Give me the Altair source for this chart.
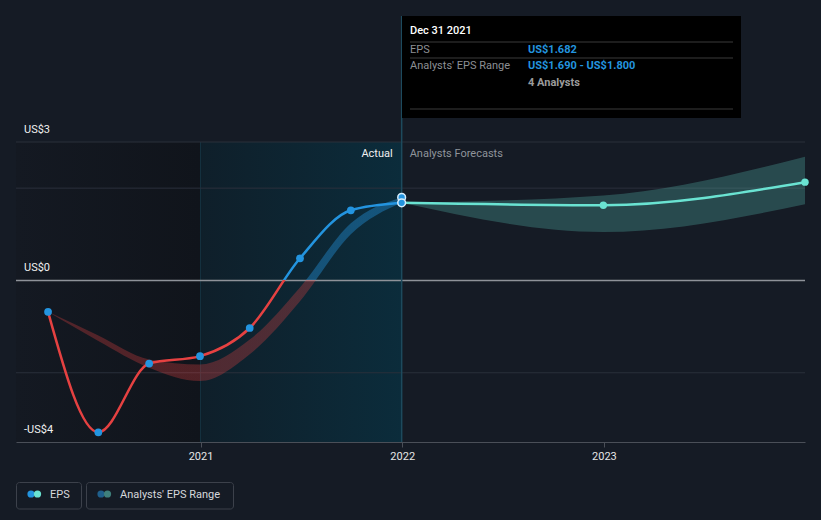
import altair as alt
import pandas as pd

# ---------------- data ----------------
eps_dates = ["2020-03-31", "2020-06-30", "2020-09-30", "2020-12-31",
             "2021-03-31", "2021-06-30", "2021-09-30", "2021-12-31"]
eps_values = [-0.68, -3.29, -1.80, -1.64, -1.03, 0.48, 1.52, 1.682]
range_low = [-0.68, -1.31, -1.89, -2.18, -1.60, -0.45, 1.00, 1.69]
range_high = [-0.68, -1.19, -1.71, -1.82, -1.28, -0.15, 1.24, 1.80]

fc_dates = ["2021-12-31", "2022-12-31", "2023-12-31"]
fc_eps = [1.682, 1.63, 2.13]
fc_low = [1.682, 1.05, 1.65]
fc_high = [1.682, 1.84, 2.68]

analysts_count = 4
y_label_values = [3, 0, -3.5]
y_labels = ["US$3", "US$0", "-US$4"]
grid_values = [3, 2, -2]
x_tick_dates = ["2021-01-01", "2022-01-01", "2023-01-01"]
x_domain_dates = ["2020-02-02", "2023-12-31"]
y_domain = [-3.5, 3]
past_region = ["2020-02-02", "2021-01-01"]
highlight_region = ["2021-01-01", "2021-12-31"]

# ---------------- style ----------------
BG = "#151b25"
BLUE = "#2394df"
RED = "#e64141"
TEAL = "#6ae3d2"
FONT = "Roboto"
FS = 11


def ms(d):
    return int(pd.Timestamp(d, tz="UTC").value // 10**6)


x_axis = alt.Axis(values=[ms(d) for d in x_tick_dates], format="%Y", labelColor="#e6e6e6",
                  labelFont=FONT, labelFontSize=FS, tickColor="#4a4f58", tickSize=5,
                  domainColor="#4a4f58", domainWidth=1, grid=False, title=None,
                  labelPadding=3, labelFlush=False)
x_scale = alt.Scale(type="utc", domain=[ms(d) for d in x_domain_dates])
y_scale = alt.Scale(domain=y_domain, nice=False, zero=False)


def X(f):
    return alt.X(f, type="temporal", scale=x_scale, axis=x_axis)


def Y(f):
    return alt.Y(f, type="quantitative", scale=y_scale, axis=None)


def grad(stops, horizontal=False):
    return alt.LinearGradient(
        gradient="linear",
        stops=[alt.GradientStop(offset=o, color=c) for o, c in stops],
        x1=0, y1=0, x2=1 if horizontal else 0, y2=0 if horizontal else 1)


def txt(s, x, y, color, size=FS, weight="normal", align="left"):
    return alt.Chart(pd.DataFrame({"t": [s]})).mark_text(
        align=align, baseline="middle", font=FONT, fontSize=size, fontWeight=weight,
        color=color).encode(text="t:N", x=alt.value(x), y=alt.value(y))


eps_df = pd.DataFrame({"date": eps_dates, "eps": eps_values, "low": range_low, "high": range_high})
fc_df = pd.DataFrame({"date": fc_dates, "eps": fc_eps, "low": fc_low, "high": fc_high})

# regions
past_df = pd.DataFrame({"s": [past_region[0]], "e": [past_region[1]], "t": [y_domain[1]], "b": [y_domain[0]]})
hl_df = pd.DataFrame({"s": [highlight_region[0]], "e": [highlight_region[1]], "t": [y_domain[1]], "b": [y_domain[0]]})

past_rect = alt.Chart(past_df).mark_rect(
    fill=grad([(0, "#141922"), (1, "#10141b")], horizontal=True)
).encode(x=X("s"), x2="e", y=Y("t"), y2="b")

hl_rect = alt.Chart(hl_df).mark_rect(
    fill=grad([(0, "#0f1f2a"), (1, "#0b2c3b")], horizontal=True)
).encode(x=X("s"), x2="e", y=Y("t"), y2="b")

hl_edge = alt.Chart(hl_df).mark_rule(color="#15323f", strokeWidth=1).encode(
    x=X("s"), y=Y("t"), y2="b")

grid = alt.Chart(pd.DataFrame({"v": grid_values})).mark_rule(
    color="#2a303b", strokeWidth=1).encode(y=Y("v"))
zero = alt.Chart(pd.DataFrame({"v": [0]})).mark_rule(
    color="#8e9299", strokeWidth=1.5).encode(y=Y("v"))

hover_line = alt.Chart(pd.DataFrame({"d": [eps_dates[-1]]})).mark_rule(
    color="#1d4a5d", strokeWidth=1.5).encode(x=X("d"), y=alt.value(-126), y2=alt.value(300))

# forecast band & line
fc_band = alt.Chart(fc_df).mark_area(interpolate="monotone", color=TEAL, opacity=0.24).encode(
    x=X("date"), y=Y("low"), y2="high")
fc_line = alt.Chart(fc_df).mark_line(interpolate="monotone", color=TEAL, strokeWidth=2.5).encode(
    x=X("date"), y=Y("eps"))
fc_points = alt.Chart(fc_df.iloc[1:]).mark_circle(size=55, color=TEAL, opacity=1).encode(
    x=X("date"), y=Y("eps"))

# past band with colour split at zero
b_top, b_bot = max(range_high), min(range_low)
b_off = b_top / (b_top - b_bot)
past_band = alt.Chart(eps_df).mark_area(
    interpolate="monotone",
    fill=grad([(0, "rgba(35,148,223,0.40)"), (b_off, "rgba(35,148,223,0.40)"),
               (b_off, "rgba(230,65,65,0.30)"), (1, "rgba(230,65,65,0.30)")])
).encode(x=X("date"), y=Y("low"), y2="high")

l_top, l_bot = max(eps_values), min(eps_values)
l_off = l_top / (l_top - l_bot)
eps_line = alt.Chart(eps_df).mark_line(
    interpolate="monotone", strokeWidth=2.5,
    stroke=grad([(0, BLUE), (l_off, BLUE), (l_off, RED), (1, RED)])
).encode(x=X("date"), y=Y("eps"))

eps_points = alt.Chart(eps_df.iloc[:-1]).mark_circle(size=60, color=BLUE, opacity=1).encode(
    x=X("date"), y=Y("eps"))

hover_df = pd.DataFrame({"date": [eps_dates[-1], eps_dates[-1]], "v": [range_high[-1], eps_values[-1]]})
hover_pts = alt.Chart(hover_df).mark_point(
    size=60, filled=True, fill=BLUE, stroke="#d6ecfa", strokeWidth=1.5, opacity=1).encode(
    x=X("date"), y=Y("v"))

# y labels
ylab = alt.Chart(pd.DataFrame({"v": y_label_values, "t": y_labels})).mark_text(
    align="left", baseline="middle", dy=-12, font=FONT, fontSize=FS, color="#f0f0f0").encode(
    x=alt.value(8), y=Y("v"), text="t:N")

# Actual / Analysts Forecasts
mark_df = pd.DataFrame({"d": [eps_dates[-1]], "v": [y_domain[1]]})
actual = alt.Chart(mark_df.assign(t="Actual")).mark_text(
    align="right", baseline="middle", dx=-9, dy=12, font=FONT, fontSize=FS, color="#f0f0f0").encode(
    x=X("d"), y=Y("v"), text="t:N")
forecast_lbl = alt.Chart(mark_df.assign(t="Analysts Forecasts")).mark_text(
    align="left", baseline="middle", dx=8, dy=12, font=FONT, fontSize=FS, color="#8f949b").encode(
    x=X("d"), y=Y("v"), text="t:N")

# tooltip box
tip_box = alt.Chart(pd.DataFrame({"a": [0]})).mark_rect(fill="#000000").encode(
    x=alt.value(386), x2=alt.value(725), y=alt.value(-126), y2=alt.value(-24))
tip_lines = [
    alt.Chart(pd.DataFrame({"a": [0]})).mark_rule(color="#3a3a3a", strokeWidth=1).encode(
        x=alt.value(394), x2=alt.value(717), y=alt.value(yy))
    for yy in (-100, -84, -33)
]
tip_date = pd.Timestamp(eps_dates[-1]).strftime("%b %d %Y")
tip_texts = [
    txt(tip_date, 394, -111, "#ffffff", FS, 500),
    txt("EPS", 394, -92.5, "#8c8f94", FS),
    txt(f"US${eps_values[-1]:.3f}", 512, -92.5, BLUE, FS, "bold"),
    txt("Analysts' EPS Range", 394, -76, "#8c8f94", FS),
    txt(f"US${range_low[-1]:.3f} - US${range_high[-1]:.3f}", 512, -76, BLUE, FS, "bold"),
    txt(f"{analysts_count} Analysts", 512, -59, "#9b9b9b", FS, "bold"),
]

# legend
def box(x1, x2):
    return alt.Chart(pd.DataFrame({"a": [0]})).mark_rect(
        fill="transparent", stroke="#3c414b", strokeWidth=1, cornerRadius=3).encode(
        x=alt.value(x1), x2=alt.value(x2), y=alt.value(340.5), y2=alt.value(367))


def dot(x, color):
    return alt.Chart(pd.DataFrame({"a": [0]})).mark_circle(size=52, color=color, opacity=1).encode(
        x=alt.value(x), y=alt.value(352))


legend = [
    box(0.5, 65.5), dot(15, BLUE), dot(21.5, TEAL), txt("EPS", 34, 352.5, "#d5d8dc", FS),
    box(70.5, 217.5), dot(85, "#1f5f8c"), dot(91.5, "#3f807c"),
    txt("Analysts' EPS Range", 104, 352.5, "#d5d8dc", FS),
]

chart = alt.layer(
    past_rect, hl_rect, hl_edge, grid, zero, hover_line,
    fc_band, past_band, fc_line, eps_line, eps_points, fc_points, hover_pts,
    ylab, actual, forecast_lbl, tip_box, *tip_lines, *tip_texts, *legend
).properties(
    width=789, height=300,
    padding={"left": 16, "top": 142, "right": 16, "bottom": 78},
    autosize=alt.AutoSizeParams(type="none"),
    background=BG,
).configure_view(stroke=None)

chart.save("out.html", embed_options={"renderer": "svg", "actions": False})
